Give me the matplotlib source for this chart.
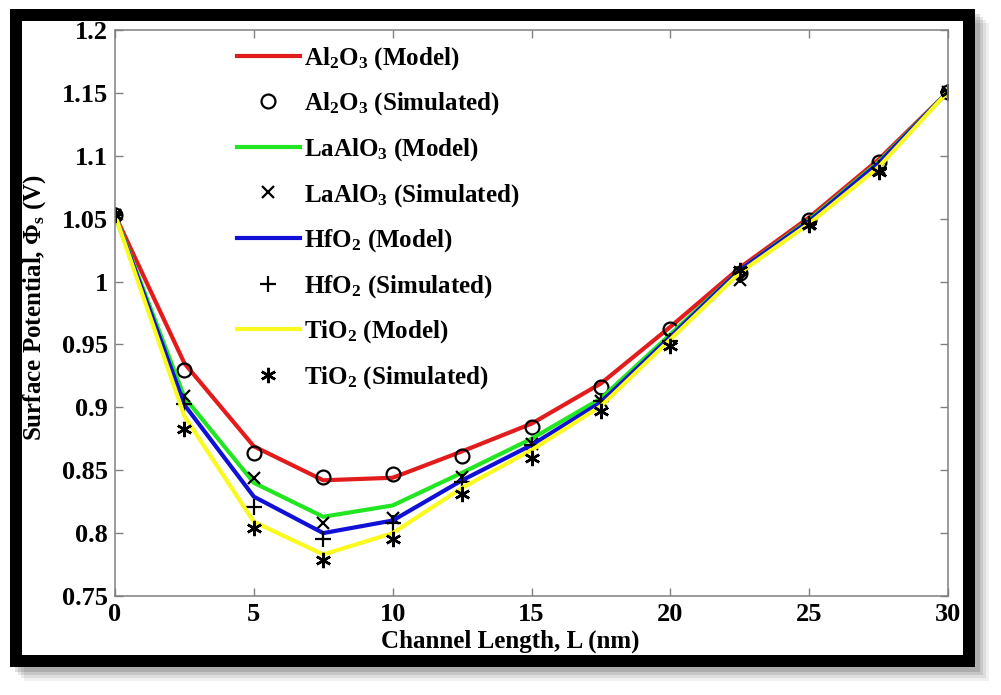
import numpy as np
import matplotlib
matplotlib.use('Agg')
import matplotlib.pyplot as plt
from matplotlib.patches import Rectangle

plt.rcParams['font.family'] = 'Liberation Serif'
plt.rcParams['font.weight'] = 'bold'
plt.rcParams['mathtext.fontset'] = 'custom'
plt.rcParams['mathtext.rm'] = 'Liberation Serif:bold'
plt.rcParams['mathtext.it'] = 'Liberation Serif:bold'
plt.rcParams['mathtext.bf'] = 'Liberation Serif:bold'

# channel length (nm)
L = [0, 2.5, 5, 7.5, 10, 12.5, 15, 17.5, 20, 22.5, 25, 27.5, 30]

# model curves
al2o3_model = [1.053, 0.935, 0.869, 0.842, 0.844, 0.865, 0.887, 0.919, 0.964, 1.011, 1.051, 1.097, 1.151]
laalo3_model = [1.053, 0.908, 0.840, 0.813, 0.822, 0.848, 0.875, 0.907, 0.958, 1.009, 1.049, 1.095, 1.151]
hfo2_model = [1.053, 0.902, 0.829, 0.800, 0.810, 0.842, 0.870, 0.904, 0.956, 1.009, 1.048, 1.094, 1.151]
tio2_model = [1.053, 0.893, 0.809, 0.783, 0.800, 0.836, 0.866, 0.901, 0.954, 1.007, 1.046, 1.091, 1.151]

# simulated points
al2o3_sim = [1.053, 0.930, 0.864, 0.845, 0.847, 0.861, 0.884, 0.916, 0.962, 1.007, 1.049, 1.095, 1.151]
laalo3_sim = [1.053, 0.909, 0.844, 0.808, 0.812, 0.845, 0.871, 0.905, 0.955, 1.001, 1.046, 1.090, 1.151]
hfo2_sim = [1.053, 0.903, 0.821, 0.795, 0.808, 0.841, 0.870, 0.905, 0.953, 1.005, 1.046, 1.090, 1.151]
tio2_sim = [1.053, 0.883, 0.804, 0.779, 0.795, 0.831, 0.860, 0.897, 0.949, 1.009, 1.045, 1.087, 1.151]

yticks = [0.75, 0.8, 0.85, 0.9, 0.95, 1.0, 1.05, 1.1, 1.15, 1.2]
ytick_labels = ['0.75', '0.8', '0.85', '0.9', '0.95', '1', '1.05', '1.1', '1.15', '1.2']
xticks = [0, 5, 10, 15, 20, 25, 30]

W, H = 1001, 695
fig = plt.figure(figsize=(W / 100, H / 100), dpi=100)
fig.patch.set_facecolor('white')
ax = fig.add_axes([115 / W, 1 - 596 / H, 833 / W, 566 / H])

lw = 3.0
ax.plot(L, al2o3_model, color='#e21c1c', lw=lw, label=r'Al$_2$O$_3$ (Model)')
ax.plot(L, al2o3_sim, ls='none', marker='o', ms=10, mfc='none', mec='black', mew=1.6,
        label=r'Al$_2$O$_3$ (Simulated)')
ax.plot(L, laalo3_model, color='#22e622', lw=lw, label=r'LaAlO$_3$ (Model)')
ax.plot(L, laalo3_sim, ls='none', marker='x', ms=9, mec='black', mew=1.6,
        label=r'LaAlO$_3$ (Simulated)')
ax.plot(L, hfo2_model, color='#1010d6', lw=lw, label=r'HfO$_2$ (Model)')
ax.plot(L, hfo2_sim, ls='none', marker='+', ms=12, mec='black', mew=1.6,
        label=r'HfO$_2$ (Simulated)')
ax.plot(L, tio2_model, color='#fafa1e', lw=lw, label=r'TiO$_2$ (Model)')
ax.plot(L, tio2_sim, ls='none', marker=(6, 2, 0), ms=11, mec='black', mew=1.8,
        label=r'TiO$_2$ (Simulated)')

ax.set_xlim(0, 30)
ax.set_ylim(0.75, 1.2)
ax.set_xticks(xticks)
ax.set_xticklabels([str(t) for t in xticks])
ax.set_yticks(yticks)
ax.set_yticklabels(ytick_labels)
ax.tick_params(direction='in', length=6, width=1.0, color='#808080',
               top=True, right=True, labelsize=19, pad=5)
for s in ax.spines.values():
    s.set_color('#808080')
    s.set_linewidth(1.1)

ax.set_xlabel('Channel Length, L (nm)', fontsize=18, fontweight='bold')
ax.xaxis.set_label_coords(0.474, -0.059)
ax.set_ylabel(r'Surface Potential, $\Phi_s$ (V)', fontsize=18, fontweight='bold')
ax.yaxis.set_label_coords(-0.08, 0.51)

leg = ax.legend(loc='upper left', bbox_to_anchor=(237 / W, 1 - 45 / H),
                bbox_transform=fig.transFigure, frameon=False, fontsize=18,
                handlelength=2.5, handletextpad=0.2, labelspacing=0.75,
                borderaxespad=0, borderpad=0, numpoints=1)

# black picture frame with a soft shadow behind it
for i, a in enumerate([0.06, 0.08, 0.10, 0.12]):
    off = 14 - 3 * i
    fig.patches.append(Rectangle(((10 + off) / W, 1 - (667 + off) / H),
                                 965 / W, 658 / H, transform=fig.transFigure,
                                 facecolor='black', edgecolor='none', alpha=a, zorder=-3))
fig.patches.append(Rectangle((10 / W, 1 - 667 / H), 965 / W, 658 / H,
                             transform=fig.transFigure, facecolor='white',
                             edgecolor='none', zorder=-2))
frame = Rectangle((16 / W, 1 - 661 / H), 953 / W, 646 / H, transform=fig.transFigure,
                  facecolor='none', edgecolor='black', lw=12 * 72 / 100,
                  joinstyle='miter', zorder=10)
fig.patches.append(frame)

fig.savefig('out.png', dpi=100, facecolor='white')
